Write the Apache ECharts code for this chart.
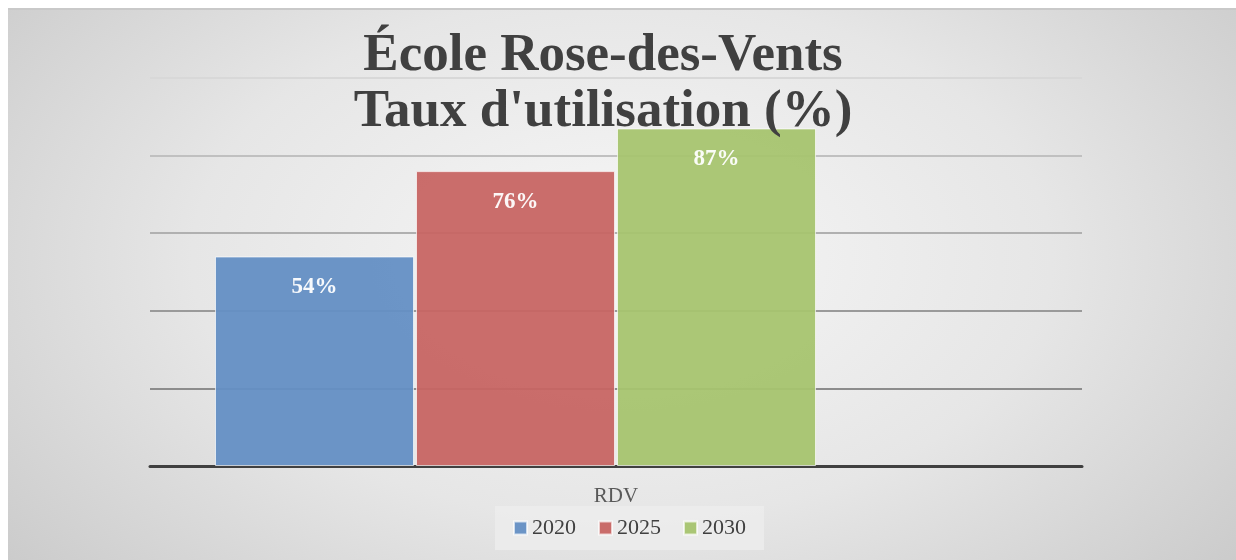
<!DOCTYPE html>
<html>
<head>
<meta charset="utf-8">
<script src="https://cdn.jsdelivr.net/npm/echarts@6/dist/echarts.min.js"></script>
<style>
    html, body { margin:0; padding:0; background:#fff; }
    #frame {
        position:absolute; left:8px; top:8px; width:1228px; height:552px;
        border-top:2px solid #c9c9c9;
        background: radial-gradient(ellipse 70% 95% at 50% 45%, #f7f7f7 0%, #e6e6e6 50%, #c6c6c6 100%);
    }
    #main { position:absolute; left:0; top:0; width:1236px; height:560px; }
</style>
</head>
<body>
<div id="frame"></div>
<div id="main"></div>
<script>
    var categories = ['RDV'];
    var years = ['2020', '2025', '2030'];
    var values2020 = [54];
    var values2025 = [76];
    var values2030 = [87];
    var colors = ['#648fc4', '#c76563', '#a7c46f'];

    var chart = echarts.init(document.getElementById('main'));

    function barSeries(name, data, color) {
        return {
            name: name,
            type: 'bar',
            data: data,
            barWidth: 199,
            barGap: '1%',
            itemStyle: { color: color, opacity: 0.95, borderColor: 'rgba(255,255,255,0.7)', borderWidth: 1 },
            label: {
                show: true,
                position: 'insideTop',
                distance: 19,
                formatter: '{c}%',
                color: '#ffffff',
                fontFamily: 'Liberation Serif',
                fontWeight: 'bold',
                fontSize: 23
            }
        };
    }

    option = {
        backgroundColor: 'transparent',
        title: {
            text: 'École Rose-des-Vents\nTaux d\'utilisation (%)',
            left: 598,
            textAlign: 'center',
            top: 23,
            textStyle: {
                color: '#404040',
                fontFamily: 'Liberation Serif',
                fontWeight: 'bold',
                fontSize: 53,
                lineHeight: 56
            }
        },
        legend: {
            data: years,
            left: 495,
            top: 506,
            itemWidth: 13,
            itemHeight: 13,
            itemGap: 22,
            padding: [11, 18, 11, 18],
            backgroundColor: 'rgba(236,236,236,0.85)',
            icon: 'rect',
            textStyle: { color: '#404040', fontFamily: 'Liberation Serif', fontSize: 22 }
        },
        grid: { left: 150, right: 154, top: 78, bottom: 94 },
        xAxis: {
            type: 'category',
            data: categories,
            axisTick: { show: false },
            axisLine: { lineStyle: { color: '#404040', width: 3 } },
            axisLabel: { color: '#595959', fontFamily: 'Liberation Serif', fontSize: 21, margin: 20 }
        },
        yAxis: {
            type: 'value',
            min: 0,
            max: 100,
            interval: 20,
            axisLabel: { show: false },
            axisLine: { show: false },
            axisTick: { show: false },
            splitLine: {
                lineStyle: {
                    color: ['#404040', '#8c8c8c', '#9a9a9a', '#b0b0b0', '#c0c0c0', '#d8d8d8'],
                    width: 2
                }
            }
        },
        series: [
            barSeries(years[0], values2020, colors[0]),
            barSeries(years[1], values2025, colors[1]),
            barSeries(years[2], values2030, colors[2]),
            { name: '', type: 'bar', data: [null], barWidth: 199, barGap: '1%' }
        ]
    };

    chart.setOption(option);
</script>
</body>
</html>
